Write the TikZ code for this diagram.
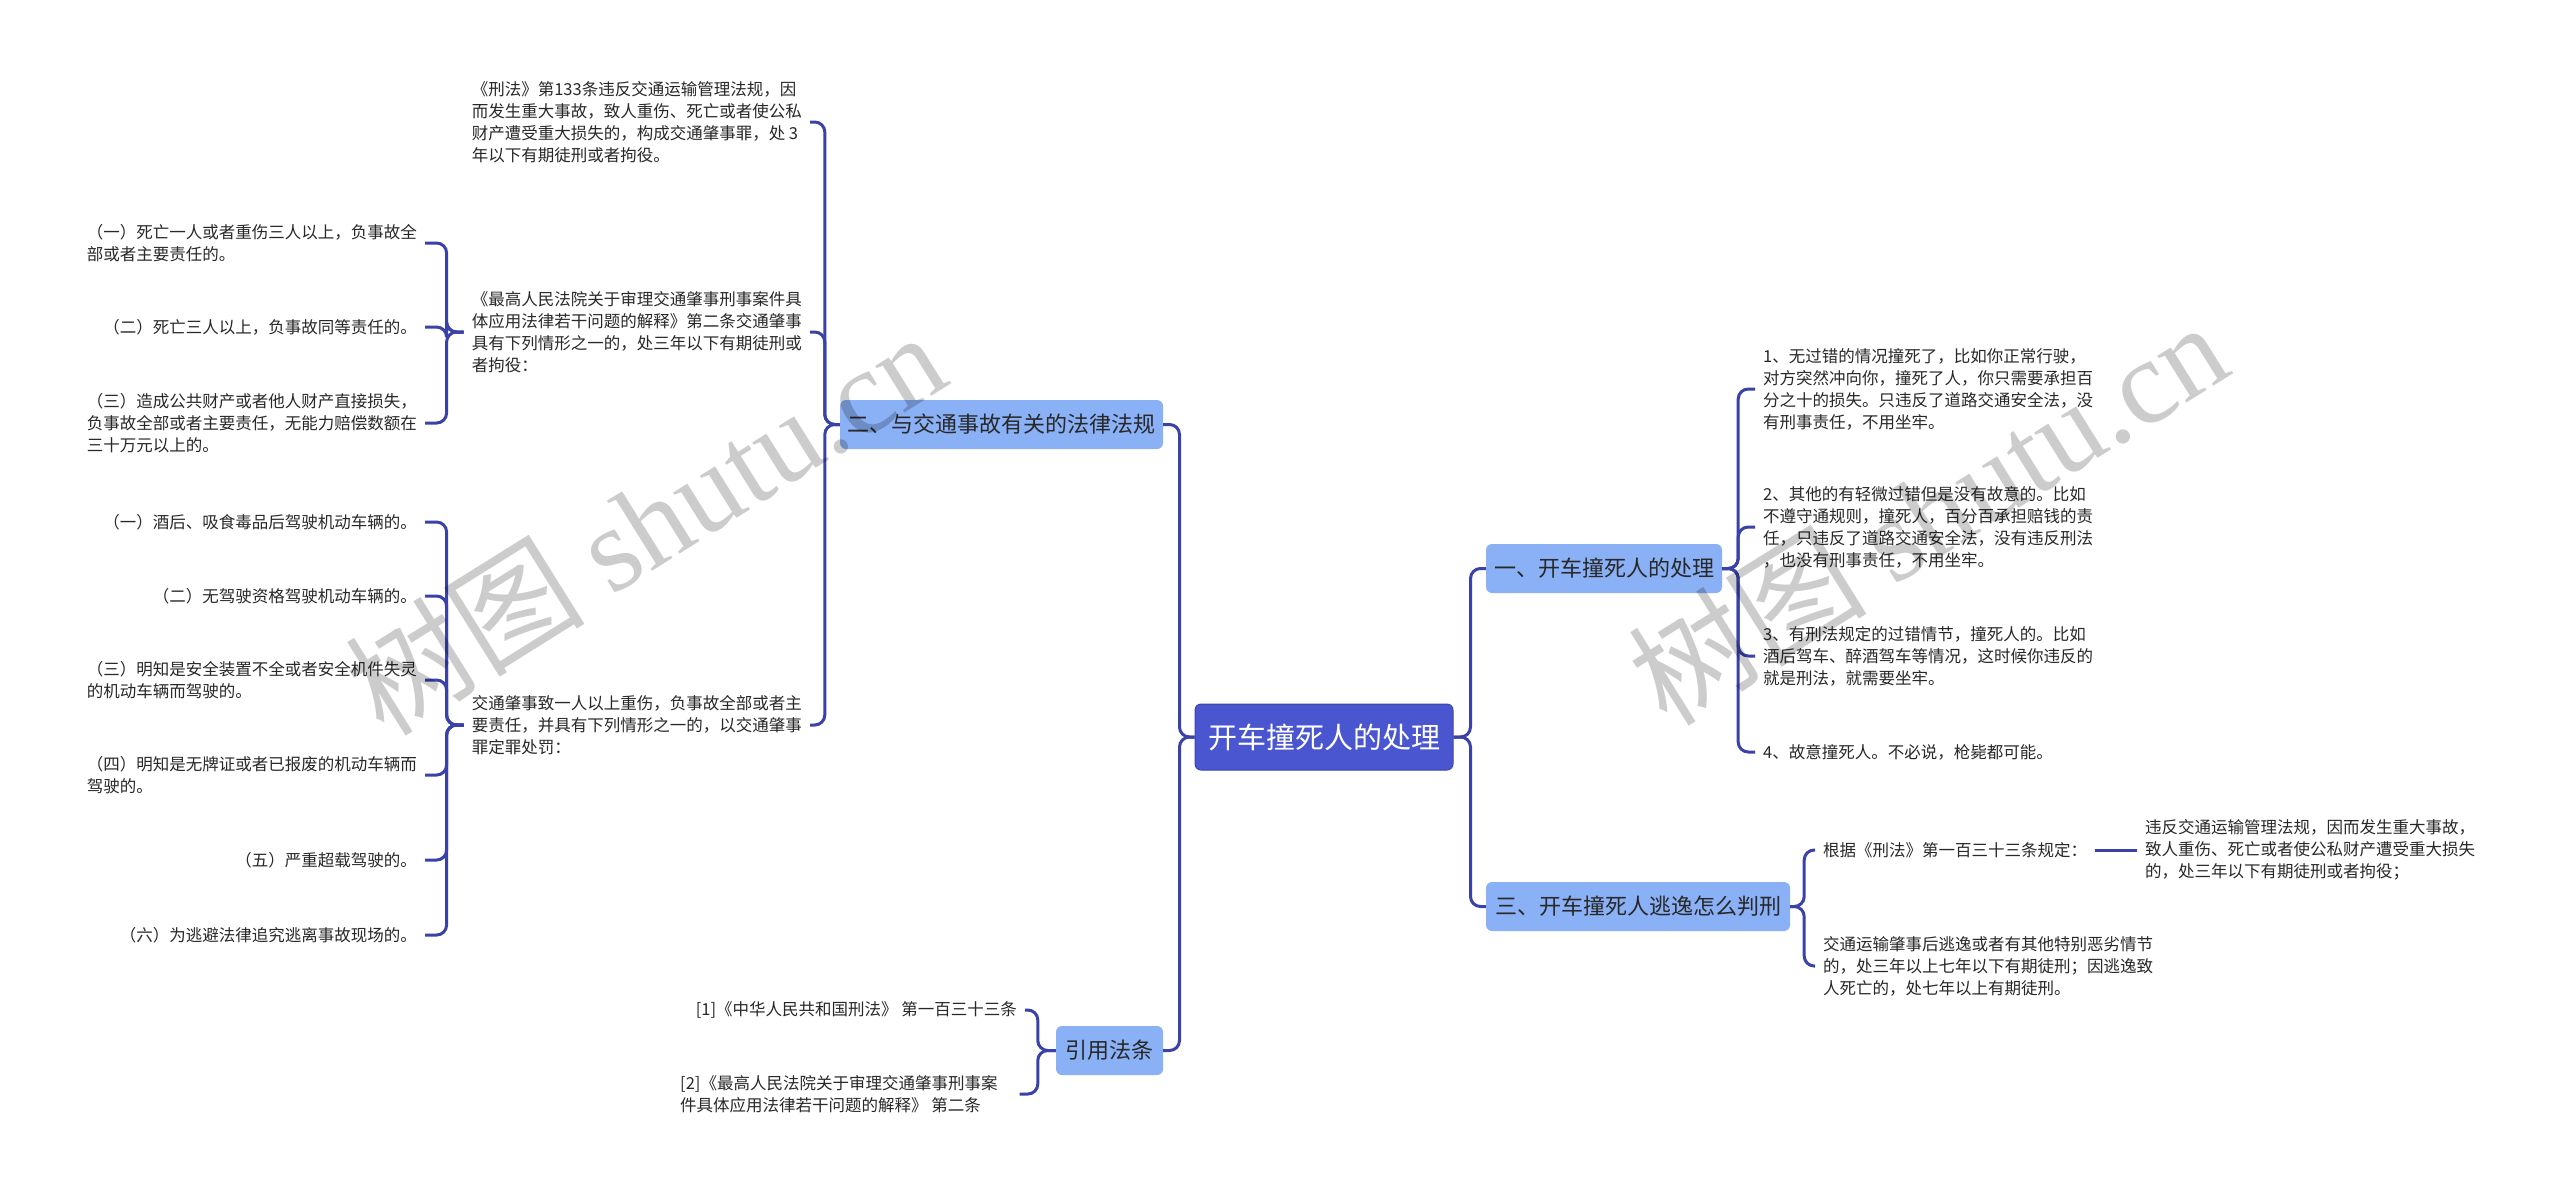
\documentclass[tikz,border=0pt]{standalone}
\usepackage{fontspec}
\setmainfont{Noto Sans CJK SC}
\newfontfamily\wmlatin{Liberation Serif}
\definecolor{connc}{RGB}{58,66,168}
\definecolor{rootc}{RGB}{74,86,208}
\definecolor{topicc}{RGB}{138,176,246}
\definecolor{txtc}{RGB}{40,40,40}
\newcommand\leaffont{\fontsize{16.5}{22}\selectfont}
\newcommand\topicfont{\fontsize{22}{26}\selectfont}
\newcommand\rootfont{\fontsize{29}{34}\selectfont}
\tikzset{
  conn/.style={draw=connc, line width=3pt, rounded corners=10pt},
  leafL/.style={anchor=east, align=left, inner xsep=8pt, inner ysep=2pt, text=txtc, font=\leaffont},
  leafR/.style={anchor=west, align=left, inner xsep=8pt, inner ysep=2pt, text=txtc, font=\leaffont},
  rootbox/.style={fill=rootc, draw=rootc!80!black, line width=1pt, rounded corners=6pt, minimum width=258pt, minimum height=66pt, inner sep=0pt, text=white, font=\rootfont},
  topicbox/.style={fill=topicc, rounded corners=6pt, minimum height=49pt, inner sep=0pt, text=txtc, font=\topicfont},
  wmark/.style={rotate=32, text=black, opacity=0.2, font=\fontsize{120}{120}\selectfont}
}
\begin{document}
\begin{tikzpicture}[x=1pt,y=-1pt]
\useasboundingbox (0,0) rectangle (2560,1195);
\fill[white] (0,0) rectangle (2560,1195);

% root and topics
\node[rootbox] (root) at (1324,737) {开车撞死人的处理};
\node[topicbox, minimum width=323pt] (b2) at (1001.5,424.5) {二、与交通事故有关的法律法规};
\node[topicbox, minimum width=107pt] (b4) at (1109.5,1050.5) {引用法条};
\node[topicbox, minimum width=236pt] (b1) at (1604,568.5) {一、开车撞死人的处理};
\node[topicbox, minimum width=304pt] (b3) at (1638,906.5) {三、开车撞死人逃逸怎么判刑};

% left leaves of b2
\node[leafL] (L1) at (810,122) {《刑法》第133条违反交通运输管理法规，因\\而发生重大事故，致人重伤、死亡或者使公私\\财产遭受重大损失的，构成交通肇事罪，处 3\\年以下有期徒刑或者拘役。};
\node[leafL] (L2) at (810,332) {《最高人民法院关于审理交通肇事刑事案件具\\体应用法律若干问题的解释》第二条交通肇事\\具有下列情形之一的，处三年以下有期徒刑或\\者拘役：};
\node[leafL] (L3) at (810,725) {交通肇事致一人以上重伤，负事故全部或者主\\要责任，并具有下列情形之一的，以交通肇事\\罪定罪处罚：};

% sub leaves of L2
\node[leafL] (s1) at (425,243) {（一）死亡一人或者重伤三人以上，负事故全\\部或者主要责任的。};
\node[leafL] (s2) at (425,327) {（二）死亡三人以上，负事故同等责任的。};
\node[leafL] (s3) at (425,423) {（三）造成公共财产或者他人财产直接损失，\\负事故全部或者主要责任，无能力赔偿数额在\\三十万元以上的。};

% sub leaves of L3
\node[leafL] (t1) at (425,522) {（一）酒后、吸食毒品后驾驶机动车辆的。};
\node[leafL] (t2) at (425,596) {（二）无驾驶资格驾驶机动车辆的。};
\node[leafL] (t3) at (425,680) {（三）明知是安全装置不全或者安全机件失灵\\的机动车辆而驾驶的。};
\node[leafL] (t4) at (425,775) {（四）明知是无牌证或者已报废的机动车辆而\\驾驶的。};
\node[leafL] (t5) at (425,860) {（五）严重超载驾驶的。};
\node[leafL] (t6) at (425,935) {（六）为逃避法律追究逃离事故现场的。};

% leaves of b4
\node[leafL] (r1) at (1025,1010) {[1]《中华人民共和国刑法》 第一百三十三条};
\node[leafR] (r2) at (672,1094) {[2]《最高人民法院关于审理交通肇事刑事案\\件具体应用法律若干问题的解释》 第二条};

% right leaves of b1
\node[leafR] (R1) at (1755,389) {1、无过错的情况撞死了，比如你正常行驶，\\对方突然冲向你，撞死了人，你只需要承担百\\分之十的损失。只违反了道路交通安全法，没\\有刑事责任，不用坐牢。};
\node[leafR] (R2) at (1755,527) {2、其他的有轻微过错但是没有故意的。比如\\不遵守通规则，撞死人，百分百承担赔钱的责\\任，只违反了道路交通安全法，没有违反刑法\\，也没有刑事责任，不用坐牢。};
\node[leafR] (R3) at (1755,656) {3、有刑法规定的过错情节，撞死人的。比如\\酒后驾车、醉酒驾车等情况，这时候你违反的\\就是刑法，就需要坐牢。};
\node[leafR] (R4) at (1755,752) {4、故意撞死人。不必说，枪毙都可能。};

% leaves of b3
\node[leafR] (Ta) at (1815,850) {根据《刑法》第一百三十三条规定：};
\node[leafR] (Ta1) at (2137,850) {违反交通运输管理法规，因而发生重大事故，\\致人重伤、死亡或者使公私财产遭受重大损失\\的，处三年以下有期徒刑或者拘役；};
\node[leafR] (Tb) at (1815,966) {交通运输肇事后逃逸或者有其他特别恶劣情节\\的，处三年以上七年以下有期徒刑；因逃逸致\\人死亡的，处七年以上有期徒刑。};

% connectors: root
\draw[conn] (root.east) -- ++(17,0) |- (b1.west);
\draw[conn] (root.east) -- ++(17,0) |- (b3.west);
\draw[conn] (root.west) -- ++(-15,0) |- (b2.east);
\draw[conn] (root.west) -- ++(-15,0) |- (b4.east);

% b2
\draw[conn] (b2.west) -- ++(-15,0) |- (L1.east);
\draw[conn] (b2.west) -- ++(-15,0) |- (L2.east);
\draw[conn] (b2.west) -- ++(-15,0) |- (L3.east);

% L2
\draw[conn] (L2.west) -- ++(-17,0) |- (s1.east);
\draw[conn] (L2.west) -- ++(-17,0) |- (s2.east);
\draw[conn] (L2.west) -- ++(-17,0) |- (s3.east);

% L3
\foreach \t in {t1,t2,t3,t4,t5,t6}
  \draw[conn] (L3.west) -- ++(-17,0) |- (\t.east);

% b4
\draw[conn] (b4.west) -- ++(-18,0) |- (r1.east);
\draw[conn] (b4.west) -- ++(-18,0) |- ([xshift=14pt]r2.east);

% b1
\foreach \r in {R1,R2,R3,R4}
  \draw[conn] (b1.east) -- ++(16,0) |- (\r.west);

% b3
\draw[conn] (b3.east) -- ++(14,0) |- (Ta.west);
\draw[conn] (b3.east) -- ++(14,0) |- (Tb.west);
\draw[conn] (Ta.east) -- (Ta1.west);

% watermarks
\node[wmark] (wm1) at (645,522) {树图 {\wmlatin shutu.cn}};
\node[wmark] (wm2) at (1927,512) {树图 {\wmlatin shutu.cn}};
\end{tikzpicture}
\end{document}
